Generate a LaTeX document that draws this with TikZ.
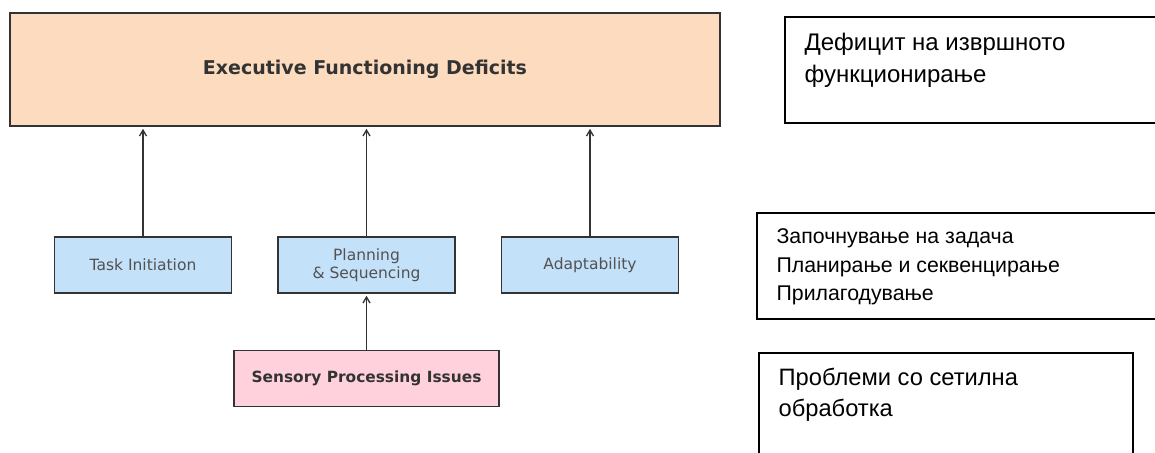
\documentclass[tikz,border=0pt]{standalone}
\usepackage{fontspec}
\setmainfont{DejaVu Sans}
\newfontfamily\cyrfont{Liberation Sans}
\usepackage{xcolor}
\usepackage{tikz}
\usetikzlibrary{arrows.meta,positioning}

\definecolor{peach}{HTML}{FDDBBF}
\definecolor{skyfill}{HTML}{C4E1FA}
\definecolor{pinkfill}{HTML}{FFD1DC}
\definecolor{edgegray}{HTML}{333333}

\begin{document}
\begin{tikzpicture}[x=1pt, y=-1pt, node distance=45pt,
    mainbox/.style={draw=edgegray, line width=1.6pt, fill=peach, text=edgegray,
        minimum width=710pt, minimum height=113pt, font=\bfseries\fontsize{19}{22}\selectfont},
    subbox/.style={draw=edgegray, line width=1.5pt, fill=skyfill, text=edgegray!85,
        minimum width=177pt, minimum height=56pt, align=center,
        font=\fontsize{15.5}{18}\selectfont},
    sensebox/.style={draw=edgegray, line width=1.5pt, fill=pinkfill, text=edgegray,
        minimum width=265pt, minimum height=56pt, font=\bfseries\fontsize{15.4}{18}\selectfont},
    notebox/.style={draw=black, line width=1.2pt, fill=white, inner sep=0pt},
    notetext/.style={anchor=north west, align=left, inner sep=0pt, text=black},
    link/.style={-{Straight Barb[length=6pt,width=7pt]}, line width=1.3pt, draw=edgegray, shorten >=2pt}]
  \useasboundingbox (0,0) rectangle (1155,452);
  \clip (0,0) rectangle (1155,452);

  % left diagram
  \node[mainbox] (efd) at (365,69.5) {Executive Functioning Deficits};
  \node[subbox] (task) at (143,265) {Task Initiation};
  \node[subbox, right=45pt of task] (plan) {Planning\\\& Sequencing};
  \node[subbox, right=45pt of plan] (adapt) {Adaptability};
  \node[sensebox, below=56pt of plan] (sensory) {Sensory Processing Issues};

  \draw[link] (task) -- (task |- efd.south);
  \draw[link] (plan) -- (plan |- efd.south);
  \draw[link] (adapt) -- (adapt |- efd.south);
  \draw[link] (sensory) -- (plan);

  % translations on the right
  \node[notebox, minimum width=380pt, minimum height=106pt] (efdnote) at (975,70) {};
  \node[notetext, font=\cyrfont\fontsize{24}{32}\selectfont]
    (efdtext) at ([shift={(20,16.5)}]efdnote.north west) {Дефицит на извршното\\функционирање};

  \node[notebox, minimum width=408pt, minimum height=106pt] (subnote) at (961,266) {};
  \node[notetext, font=\cyrfont\fontsize{21.3}{28.5}\selectfont]
    (subtext) at ([shift={(20,16.5)}]subnote.north west) {Започнување на задача\\Планирање и секвенцирање\\Прилагодување};

  \node[notebox, minimum width=374pt, minimum height=117pt] (sensenote) at (946,411.5) {};
  \node[notetext, font=\cyrfont\fontsize{23.7}{31}\selectfont]
    (sensetext) at ([shift={(20,16)}]sensenote.north west) {Проблеми со сетилна\\обработка};
\end{tikzpicture}
\end{document}
